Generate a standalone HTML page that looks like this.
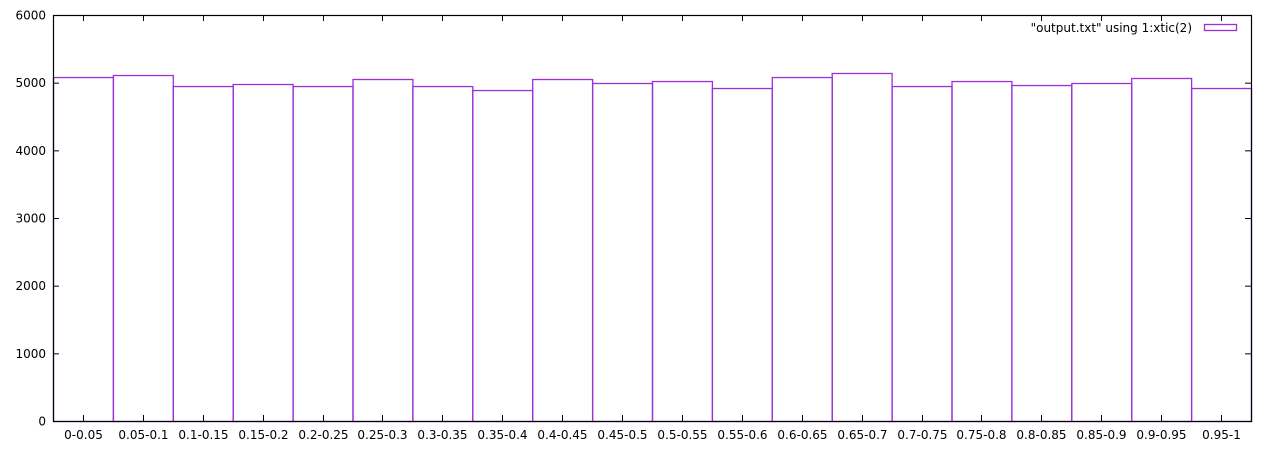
<!DOCTYPE html>
<html><head><meta charset="utf-8"><style>
body{margin:0;background:#fff;}
svg text{font-family:"DejaVu Sans","Liberation Sans",sans-serif;font-size:12px;fill:#000;}
</style></head><body>
<svg id="chart" width="1272" height="448" xmlns="http://www.w3.org/2000/svg"></svg>
<script>
const categories=["0-0.05","0.05-0.1","0.1-0.15","0.15-0.2","0.2-0.25","0.25-0.3","0.3-0.35","0.35-0.4","0.4-0.45","0.45-0.5","0.5-0.55","0.55-0.6","0.6-0.65","0.65-0.7","0.7-0.75","0.75-0.8","0.8-0.85","0.85-0.9","0.9-0.95","0.95-1"];
const counts=[5083,5113,4950,4980,4950,5054,4950,4891,5054,4995,5024,4921,5083,5143,4950,5024,4965,4995,5069,4921];
const yTicks=[0,1000,2000,3000,4000,5000,6000];
const L=53,R=1251,T=15,B=421,yMax=6000;
const svg=document.getElementById('chart');
const NS="http://www.w3.org/2000/svg";
const n=categories.length,bw=(R-L)/n;
const xs=i=>L+i*bw, ys=v=>B-(v/yMax)*(B-T);
function mk(t,a){const e=document.createElementNS(NS,t);for(const k in a)e.setAttribute(k,a[k]);svg.appendChild(e);return e;}
counts.forEach((v,i)=>{
 const r=mk('rect',{x:xs(i)+0.5,y:ys(v)+0.5,width:bw,height:B-ys(v),fill:'none',stroke:'#9b30d9','stroke-width':1.3});
 
 
});
yTicks.forEach(t=>{
 const y=ys(t)+0.5;
 mk('line',{x1:L,x2:L+6,y1:y,y2:y,stroke:'#000'});
 mk('line',{x1:R-6,x2:R,y1:y,y2:y,stroke:'#000'});
 const tx=mk('text',{x:L-7,y:y+4,'text-anchor':'end'});tx.textContent=t;
 
 
});
categories.forEach((c,i)=>{
 const x=Math.round(xs(i)+bw/2)+0.5;
 mk('line',{x1:x,x2:x,y1:B,y2:B-6,stroke:'#000'});
 mk('line',{x1:x,x2:x,y1:T,y2:T+6,stroke:'#000'});
 const tx=mk('text',{x:x,y:439,'text-anchor':'middle'});tx.textContent=c;
 
 
});
const fr=mk('rect',{x:L+0.5,y:T+0.5,width:R-L,height:B-T,fill:'none',stroke:'#000','stroke-width':1.2});


const lt=mk('text',{x:1192,y:32,'text-anchor':'end'});lt.textContent='"output.txt" using 1:xtic(2)';


const lb=mk('rect',{x:1204.5,y:24.5,width:32,height:6,fill:'none',stroke:'#9b30d9','stroke-width':1.3});


</script>
</body></html>
